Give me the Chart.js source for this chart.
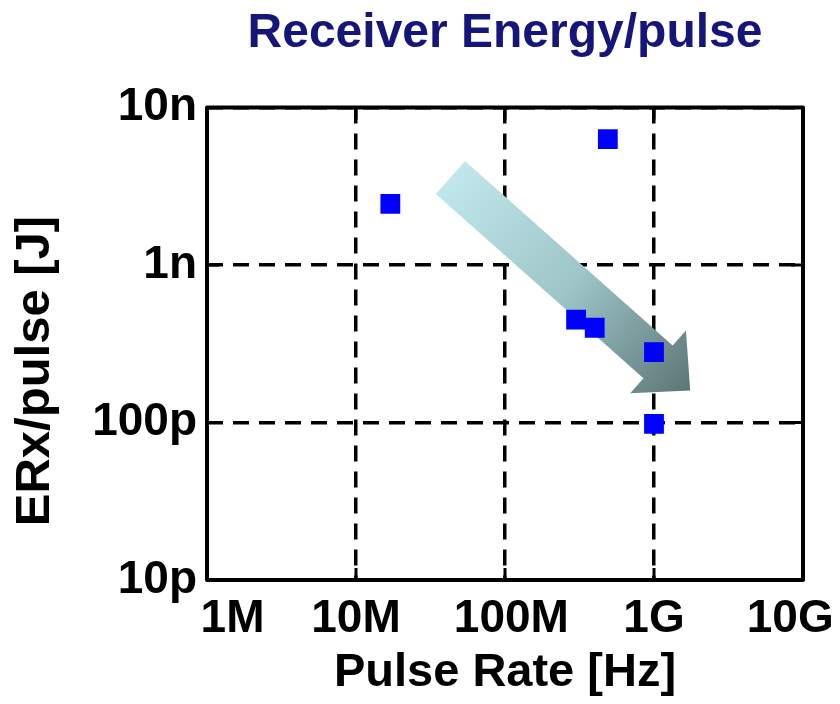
<!DOCTYPE html>
<html>
<head>
<meta charset="utf-8">
<script src="https://cdn.jsdelivr.net/npm/chart.js@4.4.0/dist/chart.umd.min.js"></script>
<style>
    body { margin: 0; background: #fff; }
</style>
</head>
<body>
<canvas id="chart01" width="840" height="704"></canvas>
<script>
// data
const pulseRate = [1.7e7, 4.9e8, 3.0e8, 4.0e8, 1.0e9, 1.0e9];
const energyPerPulse = [2.45e-9, 6.3e-9, 4.5e-10, 4.0e-10, 2.8e-10, 9.8e-11];
const xTicks = [1e6, 1e7, 1e8, 1e9, 1e10];
// edge labels padded so they stay inside the canvas like the original
const xTickLabels = ['    1M', '10M', ' 100M', '1G', '10G  '];
const yTicks = [1e-11, 1e-10, 1e-9, 1e-8];
const yTickLabels = ['10p', '100p', '1n', '10n'];
const arrowFrom = [4.3e7, 3.6e-9];
const arrowTo = [1.75e9, 1.6e-10];

const fontFam = '"Liberation Sans", Arial, sans-serif';

// trend arrow under the points
const arrowPlugin = {
    id: 'arrow',
    beforeDatasetsDraw(chart) {
        const { ctx, scales: { x, y } } = chart;
        const x1 = x.getPixelForValue(arrowFrom[0]), y1 = y.getPixelForValue(arrowFrom[1]);
        const x2 = x.getPixelForValue(arrowTo[0]), y2 = y.getPixelForValue(arrowTo[1]);
        const len = Math.hypot(x2 - x1, y2 - y1);
        const dx = (x2 - x1) / len, dy = (y2 - y1) / len;
        const nx = -dy, ny = dx;
        const shaft = 22, headW = 42, headL = 43;
        const bx = x2 - dx * headL, by = y2 - dy * headL;
        const grad = ctx.createLinearGradient(x1, y1, x2, y2);
        grad.addColorStop(0, '#c0e7eb');
        grad.addColorStop(0.5, '#9ec6c9');
        grad.addColorStop(1, '#5d7676');
        ctx.save();
        ctx.beginPath();
        ctx.moveTo(x1 + nx * shaft, y1 + ny * shaft);
        ctx.lineTo(bx + nx * shaft, by + ny * shaft);
        ctx.lineTo(bx + nx * headW, by + ny * headW);
        ctx.lineTo(x2, y2);
        ctx.lineTo(bx - nx * headW, by - ny * headW);
        ctx.lineTo(bx - nx * shaft, by - ny * shaft);
        ctx.lineTo(x1 - nx * shaft, y1 - ny * shaft);
        ctx.closePath();
        ctx.fillStyle = grad;
        ctx.fill();
        ctx.restore();
    }
};

// thick frame plus small inner ticks
const framePlugin = {
    id: 'frame',
    afterDraw(chart) {
        const { ctx, chartArea: a, scales: { x, y } } = chart;
        ctx.save();
        ctx.strokeStyle = '#000';
        ctx.lineWidth = 3;
        ctx.beginPath();
        xTicks.forEach(v => {
            const px = x.getPixelForValue(v);
            ctx.moveTo(px, a.bottom); ctx.lineTo(px, a.bottom - 12);
            ctx.moveTo(px, a.top); ctx.lineTo(px, a.top + 12);
        });
        yTicks.forEach(v => {
            const py = y.getPixelForValue(v);
            ctx.moveTo(a.left, py); ctx.lineTo(a.left + 12, py);
            ctx.moveTo(a.right, py); ctx.lineTo(a.right - 12, py);
        });
        ctx.stroke();
        ctx.lineWidth = 4;
        ctx.lineJoin = 'round';
        ctx.strokeRect(a.left, a.top, a.right - a.left, a.bottom - a.top);
        ctx.restore();
    }
};

const ctx01 = document.getElementById('chart01');
const points = pulseRate.map((v, i) => ({ x: v, y: energyPerPulse[i] }));

const mainChart = new Chart(ctx01, {
    type: 'scatter',
    data: {
        datasets: [{
            data: points,
            pointStyle: 'rect',
            pointRadius: 14,
            pointHoverRadius: 14,
            backgroundColor: '#0000ff',
            borderColor: '#0000ff',
            borderWidth: 0
        }]
    },
    options: {
        responsive: false,
        animation: false,
        layout: { padding: { left: 0, right: 37, top: 0, bottom: 0 } },
        plugins: {
            legend: { display: false },
            tooltip: { enabled: false },
            title: {
                display: true,
                text: 'Receiver Energy/pulse',
                color: '#16167a',
                fullSize: false,
                font: { family: fontFam, size: 48, weight: 'bold' },
                padding: { top: 5, bottom: 45 }
            }
        },
        scales: {
            x: {
                type: 'logarithmic',
                min: 1e6,
                max: 1e10,
                afterBuildTicks: (scale) => { scale.ticks = xTicks.map(v => ({ value: v })); },
                afterFit: (scale) => {
                    scale.height = 124;
                    scale.paddingLeft = 0;
                    scale.paddingRight = 0;
                },
                ticks: {
                    color: '#000',
                    padding: 12,
                    maxRotation: 0,
                    autoSkip: false,
                    font: { family: fontFam, size: 46, weight: 'bold' },
                    callback: (v) => xTickLabels[xTicks.indexOf(v)]
                },
                grid: { color: '#000', lineWidth: 3.5, drawTicks: false },
                border: { display: false, dash: [16, 10] },
                title: {
                    display: true,
                    text: 'Pulse Rate [Hz]',
                    color: '#000',
                    font: { family: fontFam, size: 47, weight: 'bold' },
                    padding: { top: 0, bottom: 3 }
                }
            },
            y: {
                type: 'logarithmic',
                min: 1e-11,
                max: 1e-8,
                afterBuildTicks: (scale) => { scale.ticks = yTicks.map(v => ({ value: v })); },
                afterFit: (scale) => {
                    scale.width = 207;
                    scale.paddingTop = 0;
                    scale.paddingBottom = 0;
                },
                ticks: {
                    color: '#000',
                    padding: 10,
                    autoSkip: false,
                    font: { family: fontFam, size: 46, weight: 'bold' },
                    callback: (v) => yTickLabels[yTicks.indexOf(v)]
                },
                grid: { color: '#000', lineWidth: 3.5, drawTicks: false },
                border: { display: false, dash: [16, 10] },
                title: {
                    display: true,
                    text: 'ERx/pulse [J]    ',
                    color: '#000',
                    font: { family: fontFam, size: 49, weight: 'bold' },
                    padding: { top: 6, bottom: 0 }
                }
            }
        }
    },
    plugins: [arrowPlugin, framePlugin]
});
</script>
</body>
</html>
